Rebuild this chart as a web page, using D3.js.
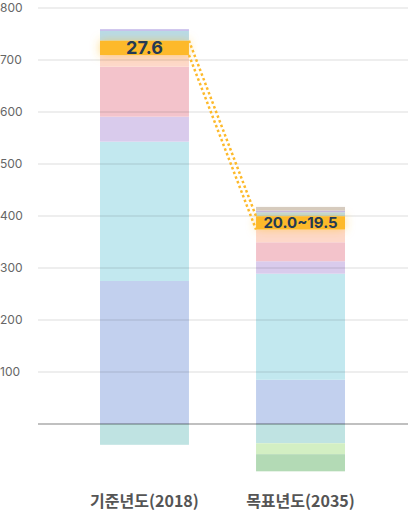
<!DOCTYPE html>
<html>
<head>
<meta charset="utf-8">
<script src="https://cdn.jsdelivr.net/npm/d3@7"></script>
<style>
  html, body { margin: 0; padding: 0; background: #fff; }
  svg { display: block; font-family: Inter, "Noto Sans CJK KR", sans-serif; }
</style>
</head>
<body>
<div id="chart"></div>
<script>
// values (Mt)
var categories = ["기준년도(2018)", "목표년도(2035)"];
var seriesKeys = ["전환", "산업", "건물", "수송", "농축수산", "강조", "폐기물", "수소", "탈루", "흡수원", "CCUS", "국외감축"];
var seriesValues = {
	"전환":     [275, 85],
	"산업":     [268, 204],
	"건물":     [48, 24],
	"수송":     [96, 36.5],
	"농축수산": [22.5, 24.5],
	"강조":     [27.6, 25.5],
	"폐기물":   [19, 7.7],
	"수소":     [3, 3.3],
	"탈루":     [0, 7],
	"흡수원":   [-40, -37],
	"CCUS":     [0, -21],
	"국외감축": [0, -33]
};
var seriesColors = ["#c2d0ee", "#c2e8ef", "#d9cbec", "#f3c3cb", "#fdd8ca", "#fdb92a",
	"#b8dae8", "#c0b6ea", "#d5cbc2", "#bfe3e2", "#d3efc3", "#b3dab5"];
var highlightLabels = ["27.6", "20.0~19.5"];
var yTicks = [100, 200, 300, 400, 500, 600, 700, 800];

var width = 408, height = 512;

var rows = categories.map(function(c, i) {
	var r = { category: c };
	seriesKeys.forEach(function(k) { r[k] = seriesValues[k][i]; });
	return r;
});

var stacked = d3.stack()
	.keys(seriesKeys)
	.offset(d3.stackOffsetDiverging)(rows);

var x = d3.scaleBand()
	.domain(categories)
	.range([22, 423])
	.paddingInner(0.43)
	.paddingOuter(0.5);

var y = d3.scaleLinear().domain([0, 800]).range([424, 8]);

var color = d3.scaleOrdinal().domain(seriesKeys).range(seriesColors);

var svg = d3.select("#chart").append("svg")
	.attr("width", width)
	.attr("height", height);

var defs = svg.append("defs");
var glow = defs.append("filter").attr("id", "glow")
	.attr("x", "-20%").attr("y", "-100%").attr("width", "140%").attr("height", "300%");
glow.append("feDropShadow")
	.attr("dx", 0).attr("dy", 0)
	.attr("stdDeviation", 5)
	.attr("flood-color", "#ffc43a")
	.attr("flood-opacity", 0.6);

// bars
var layer = svg.append("g").selectAll("g")
	.data(stacked)
	.enter().append("g")
	.attr("fill", function(d) { return color(d.key); });

layer.filter(function(d) { return d.key !== "강조"; })
	.selectAll("rect")
	.data(function(d) { return d; })
	.enter().append("rect")
	.attr("x", function(d) { return x(d.data.category); })
	.attr("width", x.bandwidth())
	.attr("y", function(d) { return y(Math.max(d[0], d[1])); })
	.attr("height", function(d) { return Math.abs(y(d[0]) - y(d[1])); });

// grid on top, light enough to look like it shows through
svg.append("g").selectAll("line")
	.data(yTicks)
	.enter().append("line")
	.attr("x1", 38).attr("x2", width)
	.attr("y1", function(d) { return y(d); })
	.attr("y2", function(d) { return y(d); })
	.attr("stroke", "rgba(0,0,0,0.09)")
	.attr("stroke-width", 1.5);

svg.append("line")
	.attr("x1", 38).attr("x2", width)
	.attr("y1", y(0)).attr("y2", y(0))
	.attr("stroke", "rgba(0,0,0,0.33)")
	.attr("stroke-width", 1.5);

svg.append("g").selectAll("text")
	.data(yTicks)
	.enter().append("text")
	.attr("x", 0)
	.attr("y", function(d) { return y(d); })
	.attr("dy", "0.35em")
	.style("font-size", "12px")
	.style("fill", "#666")
	.text(function(d) { return d; });

// highlight segment with glow and connectors
var hl = stacked.filter(function(d) { return d.key === "강조"; })[0];

var b0 = hl[0], b1 = hl[1];
var xr = x(categories[0]) + x.bandwidth(), xl = x(categories[1]);
[[b0[1], b1[1]], [b0[0], b1[0]]].forEach(function(p) {
	svg.append("line")
		.attr("x1", xr).attr("y1", y(p[0]))
		.attr("x2", xl).attr("y2", y(p[1]))
		.attr("stroke", "#fdb92a")
		.attr("stroke-width", 2.5)
		.attr("stroke-dasharray", "2.5,2.5");
});

svg.append("g").selectAll("rect")
	.data(hl)
	.enter().append("rect")
	.attr("x", function(d) { return x(d.data.category); })
	.attr("width", x.bandwidth())
	.attr("y", function(d) { return y(d[1]); })
	.attr("height", function(d) { return y(d[0]) - y(d[1]); })
	.attr("fill", color("강조"))
	.attr("filter", "url(#glow)");

svg.append("g").selectAll("text")
	.data(hl)
	.enter().append("text")
	.attr("x", function(d) { return x(d.data.category) + x.bandwidth() / 2; })
	.attr("y", function(d) { return (y(d[0]) + y(d[1])) / 2; })
	.attr("dy", "0.36em")
	.attr("text-anchor", "middle")
	.style("font-size", function(d, i) { return i === 0 ? "18px" : "15px"; })
	.style("font-weight", 700)
	.style("fill", "#243a54")
	.text(function(d, i) { return highlightLabels[i]; });

// category labels
svg.append("g").selectAll("text")
	.data(categories)
	.enter().append("text")
	.attr("x", function(d) { return x(d) + x.bandwidth() / 2; })
	.attr("y", 507)
	.attr("text-anchor", "middle")
	.style("font-family", "'Noto Sans CJK KR', sans-serif")
	.style("font-size", "16px")
	.style("font-weight", 700)
	.style("fill", "#555")
	.text(function(d) { return d; });
</script>
</body>
</html>
